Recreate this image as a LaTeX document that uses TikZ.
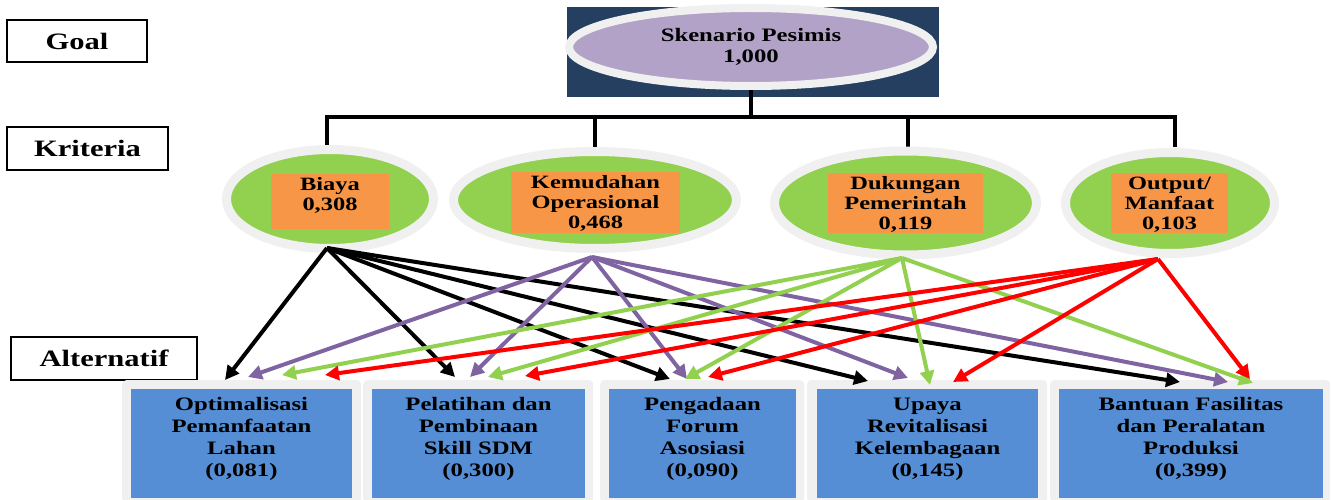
\documentclass[tikz,border=0pt]{standalone}
\usepackage{fontspec}
\setmainfont{Liberation Serif}[FakeStretch=1.3]
\usetikzlibrary{arrows.meta,shapes.geometric}
\definecolor{navy}{HTML}{243F60}
\definecolor{ringgray}{HTML}{F0F0F0}
\definecolor{goalpurple}{HTML}{B3A2C7}
\definecolor{critgreen}{HTML}{92D050}
\definecolor{critorange}{HTML}{F79646}
\definecolor{altblue}{HTML}{558ED5}
\definecolor{arrpurple}{HTML}{8064A2}
\definecolor{arrred}{HTML}{FF0000}
\begin{document}
\begin{tikzpicture}[x=1pt,y=-1pt,
  lblbox/.style={draw=black,line width=2pt,fill=white,inner sep=0pt,
    font=\fontsize{23.5}{26}\selectfont\bfseries},
  critell/.style={ellipse,fill=critgreen,draw=ringgray,line width=9pt,inner sep=0pt},
  orng/.style={fill=critorange,inner sep=0pt},
  ctext/.style={align=center,inner sep=0pt,font=\fontsize{18.8}{19.8}\selectfont\bfseries},
  graybox/.style={fill=ringgray,rounded corners=4pt,inner sep=0pt,anchor=north west},
  bluebox/.style={fill=altblue,inner sep=0pt,anchor=north west},
  atext/.style={align=center,inner sep=0pt,font=\fontsize{19}{22}\selectfont\bfseries},
  tree/.style={draw=black,line width=4.5pt},
  arr/.style={line width=4pt,-{Triangle[length=14pt,width=14pt]}}]
\useasboundingbox (0,0) rectangle (1332,500);

% labels
\node[lblbox,minimum width=140,minimum height=42] (lgoal) at (77,41) {Goal};
\node[lblbox,minimum width=161,minimum height=43] (lkrit) at (87.5,148.5) {Kriteria};
\node[lblbox,minimum width=186,minimum height=43] (lalt) at (104,358.5) {Alternatif};

% goal
\node[fill=navy,minimum width=372,minimum height=90,inner sep=0pt] (goalbg) at (753,52) {};
\coordinate (g0) at (751,89);
\coordinate (j0) at (751,117);
\coordinate (j1) at (327,117);
\coordinate (j2) at (595,117);
\coordinate (j3) at (908,117);
\coordinate (j4) at (1175,117);
\coordinate (d1) at (327,147);
\coordinate (d2) at (595,147);
\coordinate (d3) at (908,147);
\coordinate (d4) at (1175,147);
\draw[tree] (g0) -- (j0);
\draw[tree] (d1) -- (j1) -- (j4) -- (d4);
\draw[tree] (j2) -- (d2);
\draw[tree] (j3) -- (d3);
\node[ellipse,fill=goalpurple,draw=ringgray,line width=8pt,minimum width=364,minimum height=78,inner sep=0pt] (goalE) at (751,47) {};
\node[align=center,inner sep=0pt,font=\fontsize{19}{21}\selectfont\bfseries] (goalT) at (751,47) {Skenario Pesimis\\1,000};

% criteria
\node[critell,minimum width=207,minimum height=99] (cB) at (330,199) {};
\node[critell,minimum width=283,minimum height=97] (cK) at (595,200) {};
\node[critell,minimum width=262,minimum height=104] (cD) at (905.5,203) {};
\node[critell,minimum width=209,minimum height=101] (cO) at (1170,203) {};
\node[orng,minimum width=118,minimum height=55] (oB) at (330,201.5) {};
\node[orng,minimum width=169,minimum height=61] (oK) at (595.5,202.5) {};
\node[orng,minimum width=155,minimum height=60] (oD) at (905.5,203) {};
\node[orng,minimum width=117,minimum height=60] (oO) at (1169.5,203) {};
\node[ctext] (tB) at (330,195.5) {Biaya\\0,308};
\node[ctext] (tK) at (595.5,203.5) {Kemudahan\\Operasional\\0,468};
\node[ctext] (tD) at (905.5,204.5) {Dukungan\\Pemerintah\\0,119};
\node[ctext] (tO) at (1169.5,205) {Output/\\Manfaat\\0,103};

% alternatives
\node[graybox,minimum width=239,minimum height=122] (a1g) at (122,380) {};
\node[graybox,minimum width=230,minimum height=122] (a2g) at (363,380) {};
\node[graybox,minimum width=204,minimum height=122] (a3g) at (600,380) {};
\node[graybox,minimum width=240,minimum height=122] (a4g) at (807,380) {};
\node[graybox,minimum width=280,minimum height=122] (a5g) at (1050,380) {};
\node[bluebox,minimum width=221,minimum height=109] (a1) at (131,389) {};
\node[bluebox,minimum width=213,minimum height=109] (a2) at (372,389) {};
\node[bluebox,minimum width=187,minimum height=109] (a3) at (609,389) {};
\node[bluebox,minimum width=221,minimum height=109] (a4) at (817,389) {};
\node[bluebox,minimum width=264,minimum height=109] (a5) at (1059,389) {};
\node[atext] (at1) at (241.5,439) {Optimalisasi\\Pemanfaatan\\Lahan\\(0,081)};
\node[atext] (at2) at (478.5,439) {Pelatihan dan\\Pembinaan\\Skill SDM\\(0,300)};
\node[atext] (at3) at (702.5,439) {Pengadaan\\Forum\\Asosiasi\\(0,090)};
\node[atext] (at4) at (927.5,439) {Upaya\\Revitalisasi\\Kelembagaan\\(0,145)};
\node[atext] (at5) at (1191,439) {Bantuan Fasilitas\\dan Peralatan\\Produksi\\(0,399)};

% arrow origins and tips
\coordinate (sB) at (327,248);
\coordinate (sK) at (592,257);
\coordinate (sD) at (902,258);
\coordinate (sO) at (1158,259);
\coordinate (tB1) at (225,380);
\coordinate (tB2) at (455,377);
\coordinate (tB3) at (670,379);
\coordinate (tB4) at (868,381);
\coordinate (tB5) at (1180,382);
\coordinate (tK1) at (248,377);
\coordinate (tK2) at (470,377);
\coordinate (tK3) at (687,379);
\coordinate (tK4) at (908,378);
\coordinate (tK5) at (1228,382);
\coordinate (tD1) at (282,375);
\coordinate (tD2) at (488,377);
\coordinate (tD3) at (685,379);
\coordinate (tD4) at (930,385);
\coordinate (tD5) at (1253,383);
\coordinate (tO1) at (325,375);
\coordinate (tO2) at (525,376);
\coordinate (tO3) at (708,377);
\coordinate (tO4) at (953,382);
\coordinate (tO5) at (1250,379);

\foreach \i in {1,...,5} {
  \draw[arr,black] (sB) -- (tB\i);
}
\foreach \i in {1,...,5} {
  \draw[arr,arrpurple] (sK) -- (tK\i);
}
\foreach \i in {1,...,5} {
  \draw[arr,critgreen] (sD) -- (tD\i);
}
\foreach \i in {1,...,5} {
  \draw[arr,arrred] (sO) -- (tO\i);
}
\end{tikzpicture}
\end{document}
